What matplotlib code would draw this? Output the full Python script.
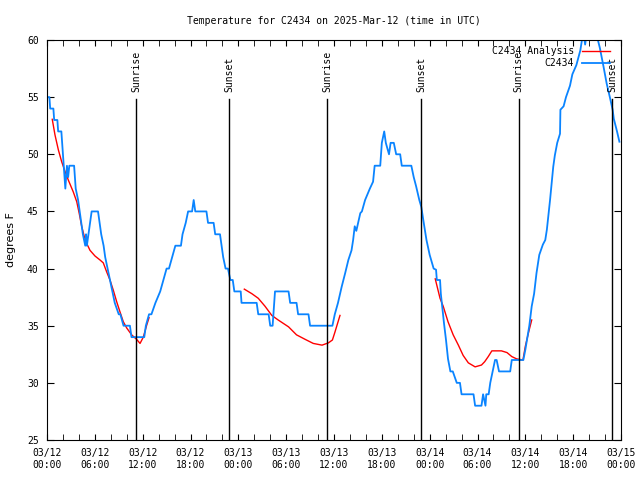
import matplotlib
matplotlib.use('Agg')
import matplotlib.pyplot as plt
import matplotlib.dates as mdates
import numpy as np
import pandas as pd

start = pd.Timestamp('2025-03-12 00:00')

# observed temperature, hours after start
obs_hours = [0.0, 0.3, 0.4, 0.8, 0.9, 1.3, 1.4, 1.8, 1.9, 2.0, 2.1, 2.2, 2.3, 2.4, 2.5, 2.65, 2.8, 3.4,
             3.5, 3.6, 3.9, 4.1, 4.3, 4.5, 4.8, 4.9, 5.0, 5.2, 5.4, 5.6, 6.4, 6.6, 6.8, 7.1, 7.3, 7.6,
             7.9, 8.2, 8.5, 9.0, 9.2, 9.6, 10.4, 10.6, 12.2, 12.4, 12.8, 13.1, 13.6, 14.2, 14.6, 15.0,
             15.3, 15.7, 16.1, 16.8, 17.0, 17.4, 17.7, 18.2, 18.4, 18.6, 20.0, 20.2, 20.9, 21.1, 21.7,
             21.9, 22.1, 22.4, 22.7, 23.0, 23.3, 23.5, 24.3, 24.4, 26.3, 26.5, 27.8, 28.0, 28.3, 28.6,
             30.3, 30.5, 31.3, 31.5, 32.8, 33.0, 35.8, 36.1, 36.5, 36.96, 37.4, 37.8, 38.2, 38.4, 38.6,
             38.8, 39.3, 39.5, 39.9, 40.5, 40.9, 41.1, 41.8, 42.0, 42.3, 42.5, 42.9, 43.1, 43.5, 43.8,
             44.3, 44.5, 45.7, 46.0, 46.3, 46.7, 46.95, 47.2, 47.6, 48.0, 48.5, 48.8, 48.9, 49.3, 49.4,
             49.6, 49.8, 50.05, 50.3, 50.6, 50.9, 51.4, 51.8, 52.0, 53.5, 53.7, 54.5, 54.7, 55.0, 55.1,
             55.4, 55.6, 55.9, 56.2, 56.4, 56.7, 58.1, 58.3, 59.75, 60.0, 60.2, 60.5, 60.8, 61.1, 61.4,
             61.75, 62.2, 62.5, 62.7, 63.1, 63.5, 63.7, 64.0, 64.35, 64.4, 64.8, 65.1, 65.6, 65.9, 66.4,
             66.9, 67.1, 67.3, 67.5, 67.7, 68.0, 68.6, 68.9, 69.1, 69.35, 69.8, 70.2, 70.6, 70.95, 71.1,
             71.5, 71.8]
obs_temps = [55, 55, 54, 54, 53, 53, 52, 52, 51, 50, 49, 48, 47, 48, 49, 48, 49, 49,
             48, 47, 46, 45, 44, 43, 42, 43, 42, 43, 44, 45, 45, 44, 43, 42, 41, 40,
             39, 38, 37, 36, 36, 35, 35, 34, 34, 35, 36, 36, 37, 38, 39, 40,
             40, 41, 42, 42, 43, 44, 45, 45, 46, 45, 45, 44, 44, 43, 43,
             42, 41, 40, 40, 39, 39, 38, 38, 37, 37, 36, 36, 35, 35, 38,
             38, 37, 37, 36, 36, 35, 35, 36, 37, 38.4, 39.6, 40.75, 41.6, 42.5, 43.7,
             43.3, 44.85, 45, 46, 47, 47.6, 49, 49, 51, 52, 51, 50, 51, 51, 50,
             50, 49, 49, 48, 47.2, 46, 45.4, 44.25, 42.5, 41.2, 40, 39.9, 39, 39, 37.8,
             36.5, 35.2, 33.75, 32.1, 31, 31, 30, 30, 29, 29, 28, 28, 29, 28, 29,
             29, 30, 31, 32, 32, 31, 31, 32, 32, 32.9, 33.75, 35, 36.7, 37.8, 39.6,
             41.2, 42.1, 42.5, 43.4, 46, 48.9, 49.9, 51, 51.8, 53.9, 54.2, 55, 56, 57, 57.8,
             59.1, 60, 60.6, 59.6, 60.6, 61, 61, 60.5, 60, 59.3, 57.7, 56.2, 55, 53.9, 53.1,
             52, 51.1]

# analysis temperature, three pieces (nan = gap)
ana_hours = [0.66, 1.0, 1.42, 1.84, 2.26, 2.67, 3.3, 3.73, 4.05, 4.35, 4.68, 4.98, 5.39, 6.02, 6.65,
             7.06, 7.49, 7.9, 8.32, 8.74, 9.16, 9.57, 10.0, 10.62, 11.25, 11.67, 12.08, 12.51, 12.8,
             18.0,
             24.75, 25.7, 26.5, 27.35, 28.2, 29.0, 30.3, 31.3, 32.4, 33.4, 34.5, 35.3, 35.8, 36.1, 36.75,
             42.0,
             48.7, 49.3, 49.7, 50.3, 50.95, 51.6, 52.2, 52.85, 53.7, 54.5, 54.9, 55.35, 55.8, 57.0, 57.7,
             58.3, 58.9, 59.7, 60.0, 60.4, 60.8]
ana_temps = [53.06, 51.7, 50.4, 49.35, 48.5, 47.75, 46.7, 45.85, 44.8, 43.7, 42.8, 42.2, 41.6, 41.1, 40.75,
             40.5, 39.7, 39.0, 38.1, 37.1, 36.2, 35.35, 34.8, 34.2, 33.8, 33.45, 34.0, 35.06, 35.7,
             np.nan,
             38.2, 37.8, 37.4, 36.7, 35.9, 35.5, 34.9, 34.2, 33.8, 33.45, 33.3, 33.5, 33.75, 34.4, 35.9,
             np.nan,
             39.1, 37.4, 36.7, 35.35, 34.2, 33.3, 32.4, 31.75, 31.4, 31.56, 31.85, 32.3, 32.8, 32.8, 32.65,
             32.3, 32.1, 32.0, 33.2, 34.4, 35.5]

sun_events = ['2025-03-12 11:13', '2025-03-12 22:53', '2025-03-13 11:11',
              '2025-03-13 22:55', '2025-03-14 11:10', '2025-03-14 22:56']
sun_labels = ['Sunrise', 'Sunset', 'Sunrise', 'Sunset', 'Sunrise', 'Sunset']

obs_t = start + pd.to_timedelta(obs_hours, unit='h')
ana_t = start + pd.to_timedelta(ana_hours, unit='h')

mono = 'DejaVu Sans Mono'
fs = 7

fig = plt.figure(figsize=(6.4, 4.8), dpi=100)
ax = fig.add_axes([47 / 640, 40 / 480, 574 / 640, 400 / 480])

ax.plot(ana_t, ana_temps, color='#ff0000', lw=1.0, label='C2434 Analysis')
ax.plot(obs_t, obs_temps, color='#0a84ff', lw=1.3, label='C2434')

trans = ax.get_xaxis_transform()
for ev, lab in zip(sun_events, sun_labels):
    t = pd.Timestamp(ev)
    ax.axvline(t, ymin=0, ymax=0.8525, color='black', lw=1.0)
    ax.text(t, 0.87, lab, transform=trans, rotation=90, ha='center', va='bottom',
            family=mono, fontsize=fs)

ax.set_xlim(start, start + pd.Timedelta(hours=72))
ax.set_ylim(25, 60)
ax.set_yticks(range(25, 61, 5))
ax.xaxis.set_major_locator(mdates.HourLocator(byhour=range(0, 24, 6)))
ax.xaxis.set_minor_locator(mdates.HourLocator(byhour=range(0, 24, 2)))
ax.xaxis.set_major_formatter(mdates.DateFormatter('%m/%d\n%H:%M'))

ax.tick_params(axis='both', which='both', direction='in', top=True, right=True,
               labelsize=fs, colors='black')
ax.tick_params(axis='x', which='both', length=4, pad=6)
ax.tick_params(axis='y', length=5, pad=6)
for lab in ax.get_xticklabels() + ax.get_yticklabels():
    lab.set_family(mono)

ax.set_title('Temperature for C2434 on 2025-Mar-12 (time in UTC)', family=mono,
             fontsize=fs, pad=11.5)
ax.set_ylabel('degrees F', fontsize=8, labelpad=8)

leg = ax.legend(loc='upper right', bbox_to_anchor=(563 / 574, 0.985), frameon=False,
                markerfirst=False, prop={'family': mono, 'size': fs}, borderpad=0,
                borderaxespad=0, handlelength=2.9, handletextpad=0.8, labelspacing=0.25)

fig.savefig('out.png', dpi=100)
